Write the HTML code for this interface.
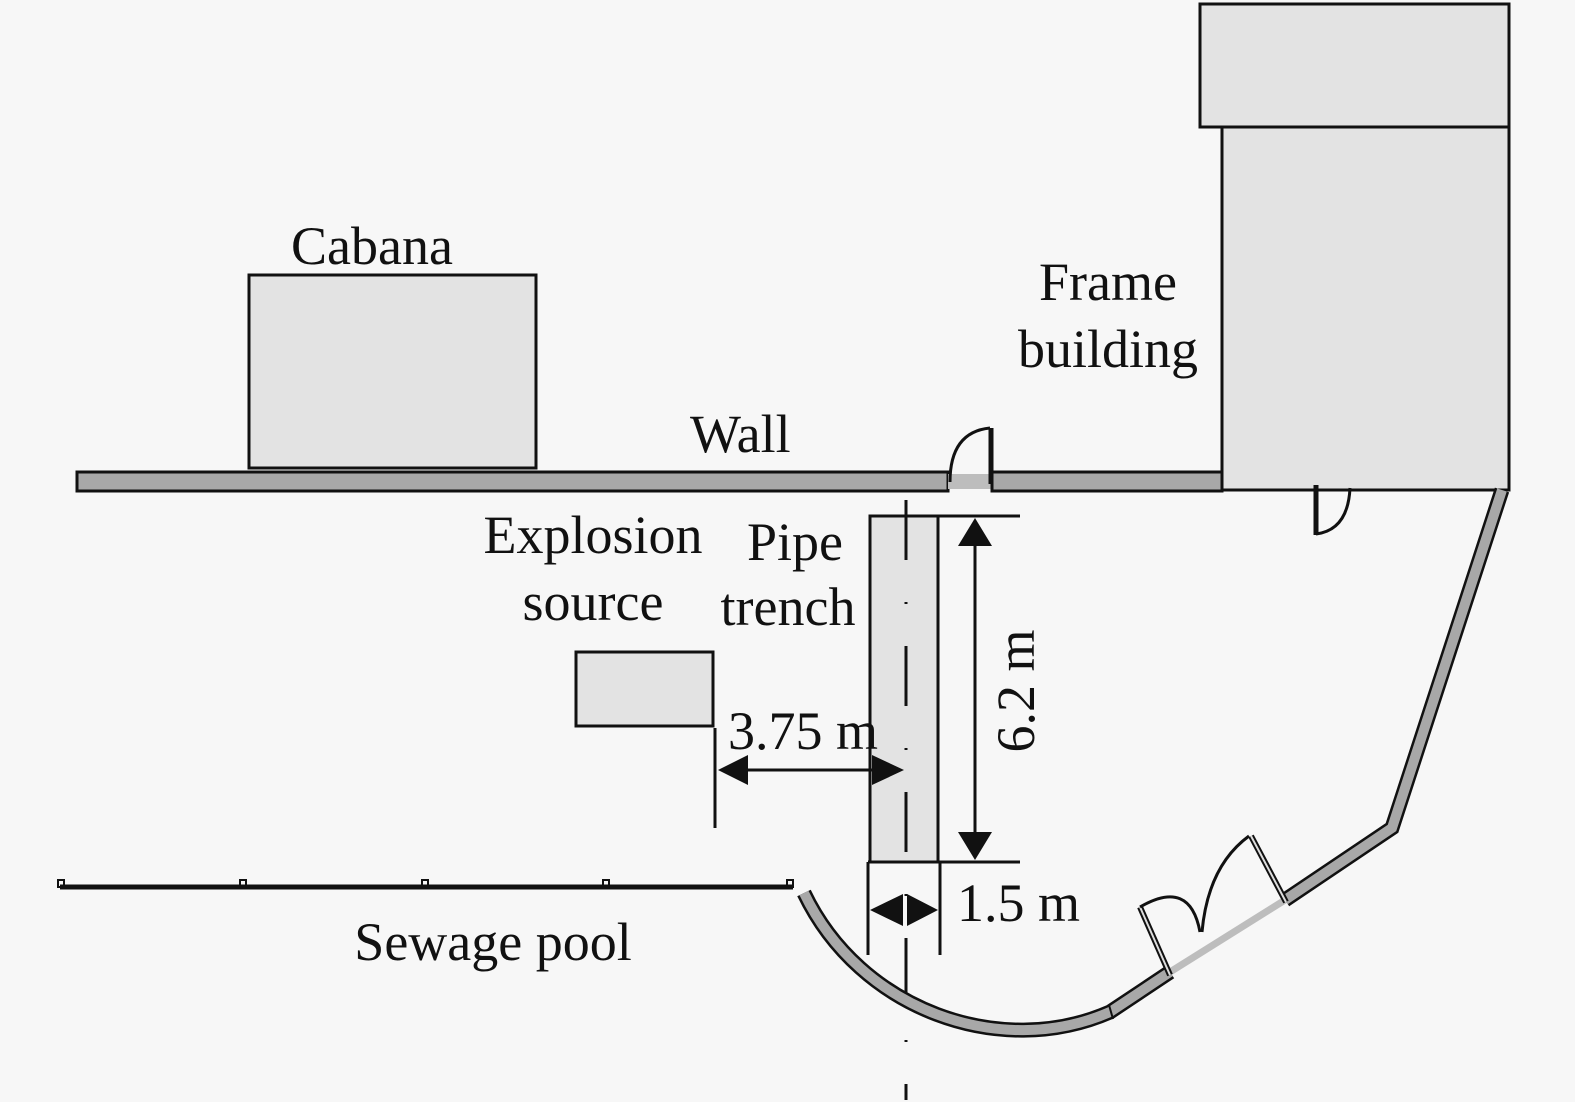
<!DOCTYPE html>
<html><head><meta charset="utf-8"><style>
html,body{margin:0;padding:0;background:#f7f7f7;}
svg{display:block;}
text{font-family:"Liberation Serif",serif;font-size:54px;fill:#111;}
</style></head><body>
<svg width="1575" height="1102" viewBox="0 0 1575 1102" xmlns="http://www.w3.org/2000/svg">
<rect width="1575" height="1102" fill="#f7f7f7"/>
<!-- Frame building -->
<rect x="1200" y="4" width="309" height="123" fill="#e3e3e3" stroke="#111" stroke-width="3"/>
<rect x="1222" y="127" width="287" height="363" fill="#e3e3e3" stroke="#111" stroke-width="3"/>
<!-- Cabana -->
<rect x="249" y="275" width="287" height="193" fill="#e3e3e3" stroke="#111" stroke-width="3"/>
<!-- Wall -->
<rect x="77" y="472" width="871" height="19" fill="#a8a8a8" stroke="#111" stroke-width="3"/>
<rect x="948" y="474" width="44" height="15" fill="#bdbdbd"/>
<rect x="992" y="472" width="230" height="19" fill="#a8a8a8" stroke="#111" stroke-width="3"/>
<!-- wall door -->
<path d="M950,482 Q950,432 990,428" fill="none" stroke="#111" stroke-width="3"/>
<line x1="991" y1="428" x2="991" y2="484" stroke="#111" stroke-width="5"/>
<!-- building door -->
<line x1="1316" y1="485" x2="1316" y2="535" stroke="#111" stroke-width="5"/>
<path d="M1316,534 Q1348,530 1350,488" fill="none" stroke="#111" stroke-width="3"/>
<!-- Explosion source -->
<rect x="576" y="652" width="137" height="74" fill="#e3e3e3" stroke="#111" stroke-width="3"/>
<!-- Trench -->
<rect x="870" y="516" width="68" height="346" fill="#e3e3e3" stroke="#111" stroke-width="3"/>
<line x1="906" y1="500" x2="906" y2="1100" stroke="#111" stroke-width="3" stroke-dasharray="60 42 2 42" />
<!-- dimension 6.2 -->
<line x1="938" y1="516" x2="1020" y2="516" stroke="#111" stroke-width="3"/>
<line x1="868" y1="862" x2="1020" y2="862" stroke="#111" stroke-width="3"/>
<line x1="975" y1="540" x2="975" y2="840" stroke="#111" stroke-width="3"/>
<polygon points="975,518 958,546 992,546" fill="#111"/>
<polygon points="975,860 958,832 992,832" fill="#111"/>
<text transform="translate(1034,691) rotate(-90)" text-anchor="middle">6.2 m</text>
<!-- dimension 3.75 -->
<line x1="715" y1="728" x2="715" y2="828" stroke="#111" stroke-width="3"/>
<line x1="740" y1="770" x2="880" y2="770" stroke="#111" stroke-width="3"/>
<polygon points="718,770 748,755 748,785" fill="#111"/>
<polygon points="904,770 872,755 872,785" fill="#111"/>
<text x="728" y="749">3.75 m</text>
<!-- dimension 1.5 -->
<line x1="868" y1="862" x2="868" y2="955" stroke="#111" stroke-width="3"/>
<line x1="940" y1="862" x2="940" y2="955" stroke="#111" stroke-width="3"/>
<polygon points="870,910 903,894 903,926" fill="#111"/>
<polygon points="938,910 907,894 907,926" fill="#111"/>
<text x="957" y="921">1.5 m</text>
<!-- Sewage pool -->
<line x1="60" y1="887" x2="793" y2="887" stroke="#111" stroke-width="5"/>
<g fill="none" stroke="#111" stroke-width="2">
<rect x="58" y="880" width="6" height="7"/><rect x="240" y="880" width="6" height="7"/><rect x="422" y="880" width="6" height="7"/><rect x="603" y="880" width="6" height="7"/><rect x="787" y="880" width="6" height="7"/>
</g>
<!-- Curved wall -->
<g fill="none" stroke-linejoin="miter">
<path d="M804,893 C860,1010 1000,1060 1110,1012 L1170,972" stroke="#111" stroke-width="15"/>
<path d="M804,893 C860,1010 1000,1060 1110,1012 L1170,972" stroke="#a8a8a8" stroke-width="10"/>
<line x1="1170" y1="972" x2="1285" y2="900" stroke="#bdbdbd" stroke-width="7"/>
<path d="M1285,900 L1392,828 L1502,490" stroke="#111" stroke-width="15"/>
<path d="M1285,900 L1392,828 L1502,490" stroke="#a8a8a8" stroke-width="10"/>
</g>
<line x1="1109" y1="1005" x2="1113" y2="1019" stroke="#111" stroke-width="2"/>
<!-- curved wall doors -->
<line x1="1170" y1="975" x2="1140" y2="907" stroke="#111" stroke-width="6"/>
<line x1="1170" y1="975" x2="1140" y2="907" stroke="#ddd" stroke-width="2"/>
<path d="M1140,907 Q1190,878 1200,932" fill="none" stroke="#111" stroke-width="3"/>
<line x1="1286" y1="902" x2="1251" y2="836" stroke="#111" stroke-width="6"/>
<line x1="1286" y1="902" x2="1251" y2="836" stroke="#ddd" stroke-width="2"/>
<path d="M1249,836 Q1208,866 1202,932" fill="none" stroke="#111" stroke-width="3"/>
<!-- Labels -->
<text x="291" y="264">Cabana</text>
<text x="690" y="452">Wall</text>
<text x="1108" y="300" text-anchor="middle">Frame</text>
<text x="1108" y="367" text-anchor="middle">building</text>
<text x="593" y="553" text-anchor="middle">Explosion</text>
<text x="593" y="620" text-anchor="middle">source</text>
<text x="795" y="560" text-anchor="middle">Pipe</text>
<text x="788" y="625" text-anchor="middle">trench</text>
<text x="493" y="960" text-anchor="middle">Sewage pool</text>
</svg>
</body></html>
